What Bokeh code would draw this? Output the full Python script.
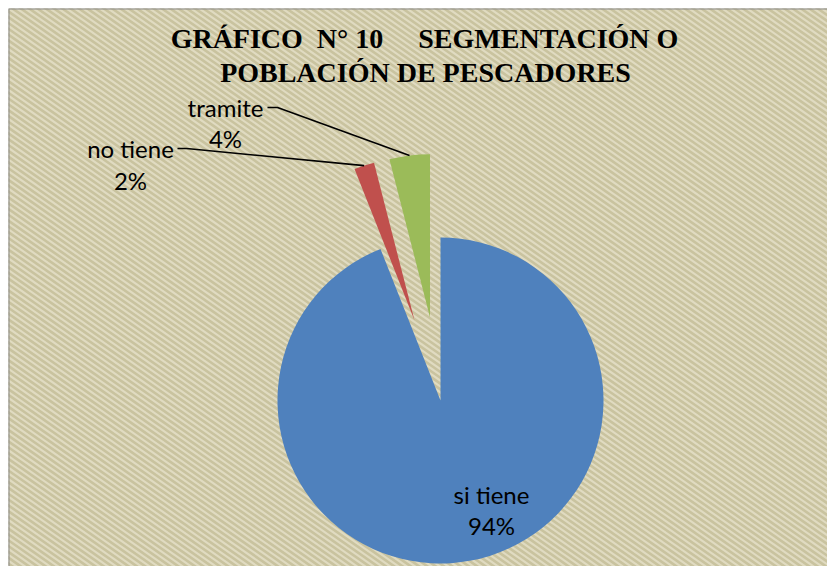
import numpy as np
from bokeh.plotting import figure
from bokeh.models import Range1d, Span
from bokeh.core.properties import value
from bokeh.embed import file_html
from bokeh.resources import INLINE

# ---- data ----
categories = ["si tiene", "no tiene", "tramite"]
percents = [94, 2, 4]
colors = ["#4f81bd", "#c0504d", "#9bbb59"]
exploded = [False, True, True]
title_lines = ["GRÁFICO\u00a0\u00a0N°\u00a010\u00a0\u00a0\u00a0\u00a0\u00a0SEGMENTACIÓN\u00a0O",
               "POBLACIÓN DE PESCADORES"]

PW, PH = 827, 566
M = 8
p = figure(width=PW, height=PH, output_backend="svg", toolbar_location=None,
           x_range=Range1d(M, PW), y_range=Range1d(0, PH - M),
           x_axis_location=None, y_axis_location=None,
           min_border_left=M, min_border_top=M, min_border_right=0, min_border_bottom=0)
p.grid.visible = False
p.outline_line_color = None
p.background_fill_color = "#e0dbc1"
p.border_fill_color = "white"

def Y(img_y):
    return PH - img_y

# diagonal stripe texture of the chart background
ang = np.radians(35)
per_x = 8.3
step = per_x * np.tan(ang)
cs = np.arange(-np.tan(ang) * PW - 20, PH + 20, step)
x0 = np.full_like(cs, 0.0)
x1 = np.full_like(cs, float(PW + 10))
p.segment(x0=x0, y0=Y(cs + np.tan(ang) * x0), x1=x1, y1=Y(cs + np.tan(ang) * x1),
          line_color="#c9c39f", line_width=2.6)

# chart-area border (only top and left edges are inside the window)
p.add_layout(Span(location=M, dimension="height", line_color="#8a8a8a", line_width=2))
p.add_layout(Span(location=PH - M, dimension="width", line_color="#8a8a8a", line_width=2))

cx, cy = 440, Y(400)
R = 163
explode_d = 84

total = float(sum(percents))
cum = np.cumsum([0] + percents) / total * 360.0  # clockwise from top, degrees
label_anchor = {}
for i, cat in enumerate(categories):
    t0, t1 = cum[i], cum[i + 1]
    mid = np.radians((t0 + t1) / 2)
    ox, oy = cx, cy
    if exploded[i]:
        ox = cx + np.sin(mid) * explode_d
        oy = cy + np.cos(mid) * explode_d
    start = np.radians(90 - t1)
    end = np.radians(90 - t0)
    p.wedge(x=[ox], y=[oy], radius=R, start_angle=[start], end_angle=[end],
            fill_color=colors[i], line_color=None)
    label_anchor[cat] = (ox + np.sin(mid) * R, oy + np.cos(mid) * R)

lab_font = value("Lato")
# outside labels with leader lines
ax, ay = label_anchor["no tiene"]
p.line(x=[177, 186, ax], y=[Y(148), Y(148), ay], line_color="black", line_width=1.6)
ax, ay = label_anchor["tramite"]
p.line(x=[267, 277, ax], y=[Y(107), Y(107), ay], line_color="black", line_width=1.6)

pct = {c: f"{v}%" for c, v in zip(categories, percents)}
common = dict(text_font=lab_font, text_font_size="24px", text_align="center",
              text_baseline="alphabetic", text_color="black")
p.text(x=[130, 130], y=[Y(148), Y(180)], text=["no tiene", pct["no tiene"]], **common)
p.text(x=[225, 225], y=[Y(107), Y(138)], text=["tramite", pct["tramite"]], **common)
p.text(x=[491, 491], y=[Y(494), Y(525)], text=["si tiene", pct["si tiene"]], **common)

# title
p.text(x=[424, 425], y=[Y(38), Y(72)], text=title_lines,
       text_font=value("Liberation Serif"), text_font_style="bold",
       text_font_size="28px", text_align="center", text_baseline="alphabetic",
       text_color="black")

open("out.html", "w").write(file_html(p, INLINE))
